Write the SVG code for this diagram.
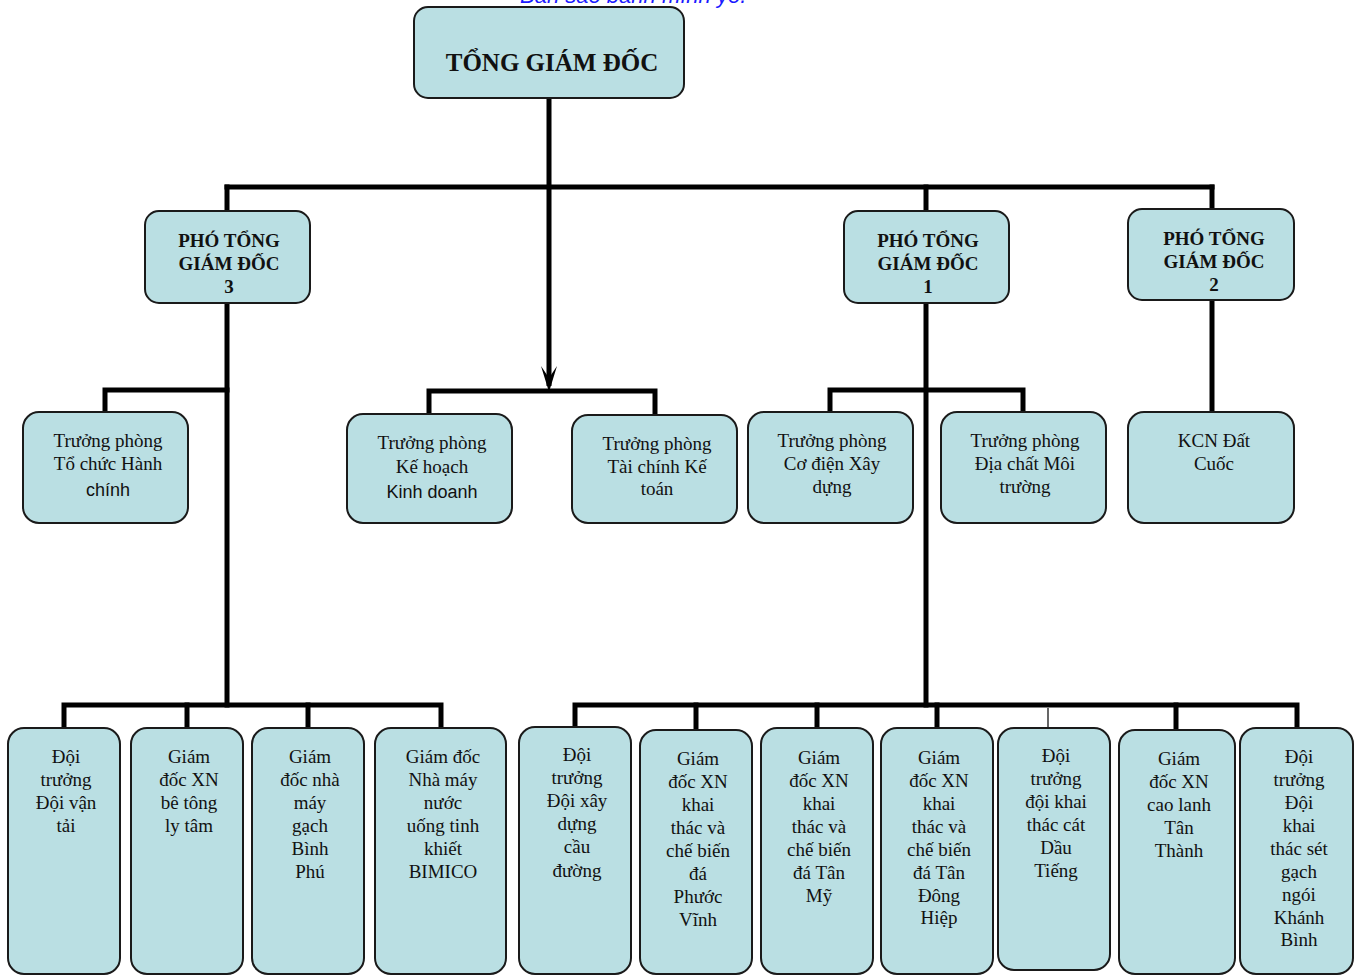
<svg xmlns="http://www.w3.org/2000/svg" width="1363" height="975" viewBox="0 0 1363 975">
<defs>
<style>
.box{fill:#badfe3;stroke:#1a1a1a;stroke-width:2}
.ln{stroke:#000;stroke-width:5;fill:none;stroke-linecap:square}
.thin{stroke:#000;stroke-width:1.2;fill:none}
.t{font-family:"Liberation Serif","Times New Roman",serif;font-size:19px;fill:#111;text-anchor:middle}
.s{font-family:"Liberation Sans",Arial,sans-serif;font-size:18px}
.b{font-family:"Liberation Serif","Times New Roman",serif;font-weight:bold;font-size:19px;fill:#111;text-anchor:middle}
.top{font-size:25px}
.note{font-family:"Liberation Sans",Arial,sans-serif;font-style:italic;font-size:22px;fill:#1a1aff}
</style>
</defs>
<text class="note" x="520" y="3">Bản sao bảnh mình yo.</text>
<g id="connectors">
<path class="ln" d="M227,187 H1212"/>
<line x1="549" y1="98" x2="549" y2="386" stroke="#000" stroke-width="5"/>
<path d="M549,392 L541,366 L549,378 L557,366 Z" fill="#000"/>
<path class="ln" d="M227,187 V211"/>
<path class="ln" d="M926,187 V211"/>
<path class="ln" d="M1212,187 V209"/>
<path class="ln" d="M227,303 V705"/>
<path class="ln" d="M227,390 H105 V412"/>
<path class="ln" d="M429,414 V391 H655 V415"/>
<path class="ln" d="M926,303 V705"/>
<path class="ln" d="M830,412 V390 H1023 V412"/>
<path class="ln" d="M1212,300 V412"/>
<path class="ln" d="M64,728 V705 H441 V728"/>
<path class="ln" d="M187,705 V728"/>
<path class="ln" d="M308,705 V728"/>
<path class="ln" d="M575,727 V705 H1297 V728"/>
<path class="ln" d="M696,705 V730"/>
<path class="ln" d="M817,705 V728"/>
<path class="ln" d="M937,705 V728"/>
<path class="thin" d="M1048,708 V728"/>
<path class="ln" d="M1176,705 V730"/>
</g>
<g id="n-tgd"><rect class="box" x="414" y="7" width="270" height="91" rx="14"/><text class="b top" x="552" y="71">TỔNG GIÁM ĐỐC</text></g>
<g id="n-pgd3"><rect class="box" x="145" y="211" width="165" height="92" rx="14"/><text class="b" x="229" y="247">PHÓ TỔNG</text><text class="b" x="229" y="270">GIÁM ĐỐC</text><text class="b" x="229" y="293">3</text></g>
<g id="n-pgd1"><rect class="box" x="844" y="211" width="165" height="92" rx="14"/><text class="b" x="928" y="247">PHÓ TỔNG</text><text class="b" x="928" y="270">GIÁM ĐỐC</text><text class="b" x="928" y="293">1</text></g>
<g id="n-pgd2"><rect class="box" x="1128" y="209" width="166" height="91" rx="14"/><text class="b" x="1214" y="245">PHÓ TỔNG</text><text class="b" x="1214" y="268">GIÁM ĐỐC</text><text class="b" x="1214" y="291">2</text></g>
<g id="n-tchc"><rect class="box" x="23" y="412" width="165" height="111" rx="16"/><text class="t" x="108" y="447">Trưởng phòng</text><text class="t" x="108" y="470">Tổ chức Hành</text><text class="t s" x="108" y="496">chính</text></g>
<g id="n-khkd"><rect class="box" x="347" y="414" width="165" height="109" rx="16"/><text class="t" x="432" y="449">Trưởng phòng</text><text class="t" x="432" y="473">Kế hoạch</text><text class="t s" x="432" y="498">Kinh doanh</text></g>
<g id="n-tckt"><rect class="box" x="572" y="415" width="165" height="108" rx="16"/><text class="t" x="657" y="450">Trưởng phòng</text><text class="t" x="657" y="473">Tài chính Kế</text><text class="t" x="657" y="495">toán</text></g>
<g id="n-cdxd"><rect class="box" x="748" y="412" width="165" height="111" rx="16"/><text class="t" x="832" y="447">Trưởng phòng</text><text class="t" x="832" y="470">Cơ điện Xây</text><text class="t" x="832" y="493">dựng</text></g>
<g id="n-dcmt"><rect class="box" x="941" y="412" width="165" height="111" rx="16"/><text class="t" x="1025" y="447">Trưởng phòng</text><text class="t" x="1025" y="470">Địa chất Môi</text><text class="t" x="1025" y="493">trường</text></g>
<g id="n-kcn"><rect class="box" x="1128" y="412" width="166" height="111" rx="16"/><text class="t" x="1214" y="447">KCN Đất</text><text class="t" x="1214" y="470">Cuốc</text></g>
<g id="n-b1"><rect class="box" x="8" y="728" width="112" height="246" rx="16"/><text class="t" x="66" y="763">Đội</text><text class="t" x="66" y="786">trưởng</text><text class="t" x="66" y="809">Đội vận</text><text class="t" x="66" y="832">tải</text></g>
<g id="n-b2"><rect class="box" x="131" y="728" width="112" height="246" rx="16"/><text class="t" x="189" y="763">Giám</text><text class="t" x="189" y="786">đốc XN</text><text class="t" x="189" y="809">bê tông</text><text class="t" x="189" y="832">ly tâm</text></g>
<g id="n-b3"><rect class="box" x="252" y="728" width="112" height="246" rx="16"/><text class="t" x="310" y="763">Giám</text><text class="t" x="310" y="786">đốc nhà</text><text class="t" x="310" y="809">máy</text><text class="t" x="310" y="832">gạch</text><text class="t" x="310" y="855">Bình</text><text class="t" x="310" y="878">Phú</text></g>
<g id="n-b4"><rect class="box" x="375" y="728" width="131" height="246" rx="16"/><text class="t" x="443" y="763">Giám đốc</text><text class="t" x="443" y="786">Nhà máy</text><text class="t" x="443" y="809">nước</text><text class="t" x="443" y="832">uống tinh</text><text class="t" x="443" y="855">khiết</text><text class="t" x="443" y="878">BIMICO</text></g>
<g id="n-b5"><rect class="box" x="519" y="727" width="112" height="247" rx="16"/><text class="t" x="577" y="761">Đội</text><text class="t" x="577" y="784">trưởng</text><text class="t" x="577" y="807">Đội xây</text><text class="t" x="577" y="830">dựng</text><text class="t" x="577" y="853">cầu</text><text class="t" x="577" y="877">đường</text></g>
<g id="n-b6"><rect class="box" x="640" y="730" width="112" height="244" rx="16"/><text class="t" x="698" y="765">Giám</text><text class="t" x="698" y="788">đốc XN</text><text class="t" x="698" y="811">khai</text><text class="t" x="698" y="834">thác và</text><text class="t" x="698" y="857">chế biến</text><text class="t" x="698" y="880">đá</text><text class="t" x="698" y="903">Phước</text><text class="t" x="698" y="926">Vĩnh</text></g>
<g id="n-b7"><rect class="box" x="761" y="728" width="112" height="246" rx="16"/><text class="t" x="819" y="764">Giám</text><text class="t" x="819" y="787">đốc XN</text><text class="t" x="819" y="810">khai</text><text class="t" x="819" y="833">thác và</text><text class="t" x="819" y="856">chế biến</text><text class="t" x="819" y="879">đá Tân</text><text class="t" x="819" y="902">Mỹ</text></g>
<g id="n-b8"><rect class="box" x="881" y="728" width="112" height="246" rx="16"/><text class="t" x="939" y="764">Giám</text><text class="t" x="939" y="787">đốc XN</text><text class="t" x="939" y="810">khai</text><text class="t" x="939" y="833">thác và</text><text class="t" x="939" y="856">chế biến</text><text class="t" x="939" y="879">đá Tân</text><text class="t" x="939" y="902">Đông</text><text class="t" x="939" y="924">Hiệp</text></g>
<g id="n-b9"><rect class="box" x="998" y="728" width="112" height="242" rx="16"/><text class="t" x="1056" y="762">Đội</text><text class="t" x="1056" y="785">trưởng</text><text class="t" x="1056" y="808">đội khai</text><text class="t" x="1056" y="831">thác cát</text><text class="t" x="1056" y="854">Dầu</text><text class="t" x="1056" y="877">Tiếng</text></g>
<g id="n-b10"><rect class="box" x="1119" y="730" width="116" height="244" rx="16"/><text class="t" x="1179" y="765">Giám</text><text class="t" x="1179" y="788">đốc XN</text><text class="t" x="1179" y="811">cao lanh</text><text class="t" x="1179" y="834">Tân</text><text class="t" x="1179" y="857">Thành</text></g>
<g id="n-b11"><rect class="box" x="1240" y="728" width="113" height="246" rx="16"/><text class="t" x="1299" y="763">Đội</text><text class="t" x="1299" y="786">trưởng</text><text class="t" x="1299" y="809">Đội</text><text class="t" x="1299" y="832">khai</text><text class="t" x="1299" y="855">thác sét</text><text class="t" x="1299" y="878">gạch</text><text class="t" x="1299" y="901">ngói</text><text class="t" x="1299" y="924">Khánh</text><text class="t" x="1299" y="946">Bình</text></g>
</svg>
